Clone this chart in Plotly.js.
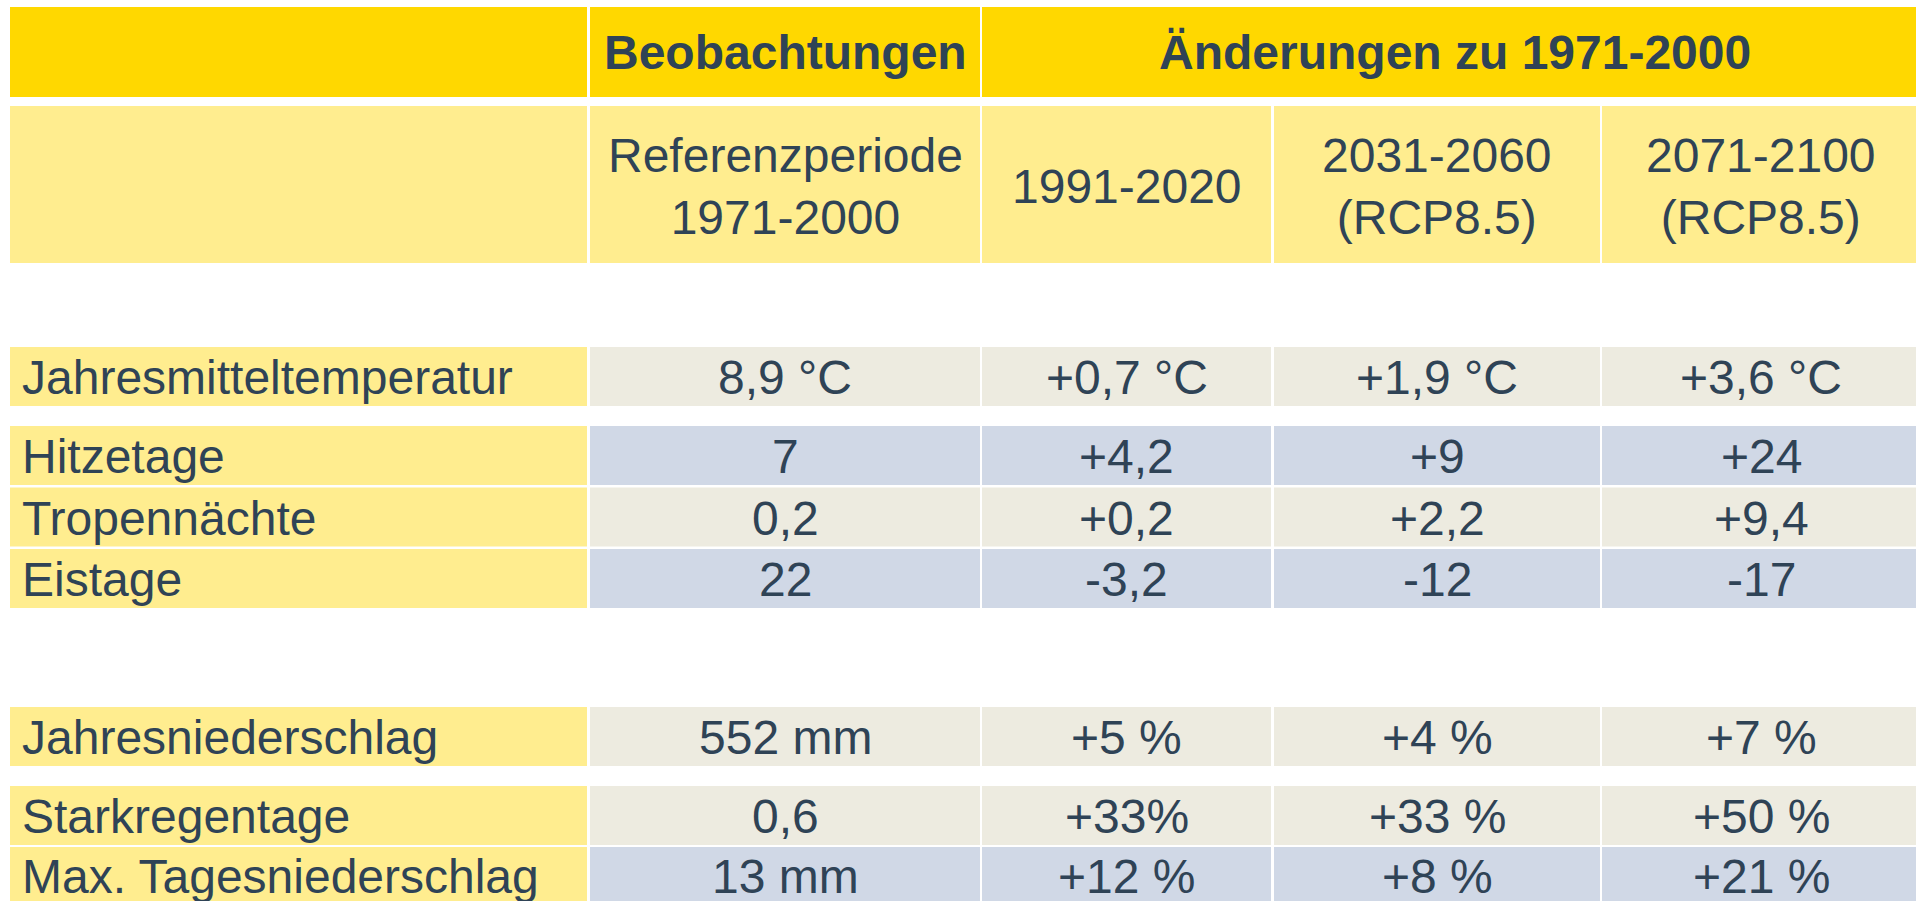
<!DOCTYPE html>
<html>
<head>
<meta charset="utf-8">
<script src="https://cdn.plot.ly/plotly-3.0.1.min.js"></script>
<style>html,body{margin:0;padding:0;background:#fff;}#chart{width:1916px;height:901px;}</style>
</head>
<body>
<div id="chart"></div>
<script>
// ---- data ----
const groupHeaders = ['Beobachtungen', 'Änderungen zu 1971-2000'];
const periodHeaders = ['Referenzperiode<br>1971-2000', '1991-2020', '2031-2060<br>(RCP8.5)', '2071-2100<br>(RCP8.5)'];
const rowLabels = ['Jahresmitteltemperatur', 'Hitzetage', 'Tropennächte', 'Eistage', 'Jahresniederschlag', 'Starkregentage', 'Max. Tagesniederschlag'];
const observed = ['8,9 °C', '7', '0,2', '22', '552 mm', '0,6', '13 mm'];
const change1991 = ['+0,7 °C', '+4,2', '+0,2', '-3,2', '+5 %', '+33%', '+12 %'];
const change2031 = ['+1,9 °C', '+9', '+2,2', '-12', '+4 %', '+33 %', '+8 %'];
const change2071 = ['+3,6 °C', '+24', '+9,4', '-17', '+7 %', '+50 %', '+21 %'];
const rowShade = ['beige', 'blue', 'beige', 'blue', 'beige', 'beige', 'blue'];

// ---- layout geometry & styles ----
const W = 1916, H = 901;
const colX0 = [10, 590, 982, 1274, 1602];
const colX1 = [587, 980, 1271, 1600, 1920];
const head1Y = [7, 97];
const head2Y = [106, 263];
const rowY0 = [347, 426, 487.5, 549, 707, 786, 847];
const rowY1 = [406, 485, 546.5, 608, 766, 845, 906];
const C = {
  gold: '#FFD800', light: '#FFED8F', beige: '#EDEBE0', blue: '#D0D8E6', text: '#2F4356'
};
const FONT = 'Liberation Sans, Arial, sans-serif';
const FS = 48;

const shapes = [];
const ann = [];
function rect(x0, x1, y0, y1, color) {
  shapes.push({type: 'rect', xref: 'x', yref: 'y', x0: x0, x1: x1, y0: y0, y1: y1,
    fillcolor: color, line: {width: 0}, layer: 'below'});
}
function txt(x, y, text, opts) {
  ann.push(Object.assign({xref: 'x', yref: 'y', x: x, y: y, text: text, showarrow: false,
    xanchor: 'center', yanchor: 'middle',
    font: {family: FONT, size: FS, color: C.text}}, opts || {}));
}
const cx = i => (colX0[i] + colX1[i]) / 2;

// header row 1
rect(colX0[0], colX1[0], head1Y[0], head1Y[1], C.gold);
rect(colX0[1], colX1[1], head1Y[0], head1Y[1], C.gold);
rect(colX0[2], colX1[4], head1Y[0], head1Y[1], C.gold);
txt(cx(1), (head1Y[0] + head1Y[1]) / 2, '<b>' + groupHeaders[0] + '</b>');
txt((colX0[2] + W) / 2 + 6, (head1Y[0] + head1Y[1]) / 2, '<b>' + groupHeaders[1] + '</b>');

// header row 2
for (let c = 0; c < 5; c++) rect(colX0[c], colX1[c], head2Y[0], head2Y[1], C.light);
periodHeaders.forEach((t, i) => txt(cx(i + 1), (head2Y[0] + head2Y[1]) / 2 + 2, t));

// body
const cols = [observed, change1991, change2031, change2071];
rowLabels.forEach((lab, r) => {
  const ym = (rowY0[r] + Math.min(rowY1[r], 904)) / 2;
  rect(colX0[0], colX1[0], rowY0[r], rowY1[r], C.light);
  txt(colX0[0] + 10, ym + 1, lab, {xanchor: 'left'});
  cols.forEach((arr, c) => {
    rect(colX0[c + 1], colX1[c + 1], rowY0[r], rowY1[r], C[rowShade[r]]);
    txt(cx(c + 1), ym + 1, arr[r]);
  });
});

const layout = {
  width: W, height: H,
  margin: {l: 0, r: 0, t: 0, b: 0, pad: 0},
  paper_bgcolor: '#ffffff', plot_bgcolor: '#ffffff',
  showlegend: false,
  xaxis: {range: [0, W], visible: false, fixedrange: true},
  yaxis: {range: [H, 0], visible: false, fixedrange: true},
  shapes: shapes, annotations: ann
};
Plotly.newPlot('chart', [{x: [], y: [], type: 'scatter', mode: 'markers', hoverinfo: 'skip'}], layout,
  {displayModeBar: false, staticPlot: true});
</script>
</body>
</html>
